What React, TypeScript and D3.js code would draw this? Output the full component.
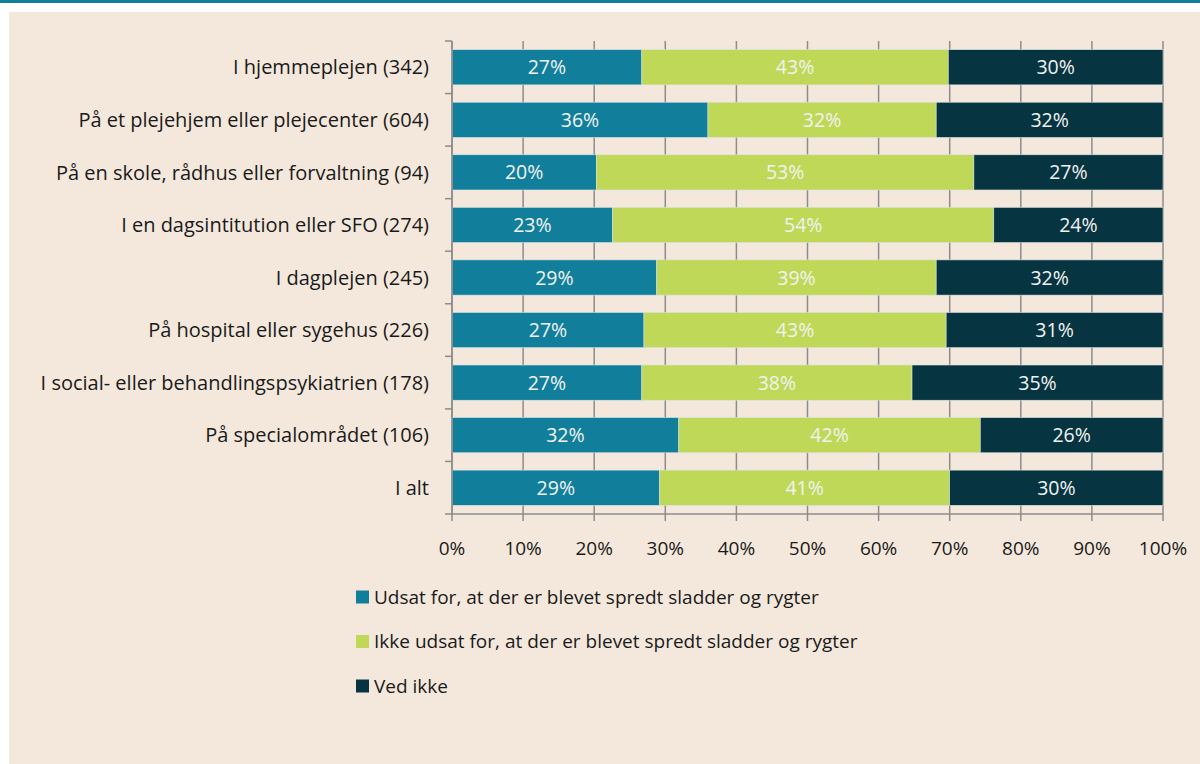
import React, { useRef, useEffect } from 'react';
import * as d3 from 'd3';

const categories = [
  'I hjemmeplejen (342)',
  'På et plejehjem eller plejecenter (604)',
  'På en skole, rådhus eller forvaltning (94)',
  'I en dagsintitution eller SFO (274)',
  'I dagplejen (245)',
  'På hospital eller sygehus (226)',
  'I social- eller behandlingspsykiatrien (178)',
  'På specialområdet (106)',
  'I alt',
];

const udsat = [26.7, 36.0, 20.3, 22.6, 28.8, 27.0, 26.7, 31.9, 29.2];
const ikkeUdsat = [43.1, 32.1, 53.1, 53.6, 39.3, 42.5, 38.0, 42.4, 40.8];
const vedIkke = [30.2, 31.9, 26.6, 23.8, 31.9, 30.5, 35.3, 25.7, 30.0];

const seriesNames = [
  'Udsat for, at der er blevet spredt sladder og rygter',
  'Ikke udsat for, at der er blevet spredt sladder og rygter',
  'Ved ikke',
];
const seriesColors = ['#117f9b', '#bfd857', '#073441'];
const xTicks = [0, 10, 20, 30, 40, 50, 60, 70, 80, 90, 100];

const W = 1200;
const H = 764;
const FONT = '"Open Sans", "Noto Sans", sans-serif';

function StackedBars() {
  const svgRef = useRef<SVGSVGElement>(null);

  useEffect(() => {
    const svg = d3.select(svgRef.current);
    svg.selectAll('*').remove();

    // panel background + top rule
    svg.append('rect').attr('width', W).attr('height', H).attr('fill', '#ffffff');
    svg.append('rect').attr('width', W).attr('height', 3).attr('fill', '#117f9b');
    svg.append('rect').attr('x', 9).attr('y', 12).attr('width', W - 9).attr('height', H - 12).attr('fill', '#f4e8dc');

    const left = 452;
    const right = 1163;
    const top = 41;
    const bottom = 514;

    const x = d3.scaleLinear().domain([0, 100]).range([left, right]);
    const y = d3.scaleBand<string>().domain(categories).range([top, bottom]).paddingInner(0.33).paddingOuter(0.165);

    const rows = categories.map((c, i) => ({ cat: c, s0: udsat[i], s1: ikkeUdsat[i], s2: vedIkke[i] }));
    const stack = d3.stack<any>().keys(['s0', 's1', 's2']);
    const layers = stack(rows);

    // vertical gridlines + bottom ticks
    const grid = svg.append('g');
    grid.selectAll('line')
      .data(xTicks)
      .enter()
      .append('line')
      .attr('x1', d => x(d))
      .attr('x2', d => x(d))
      .attr('y1', top)
      .attr('y2', bottom + 7)
      .attr('stroke', '#8c8c8c')
      .attr('stroke-width', 1.5);

    const g = svg.append('g');
    layers.forEach((layer, li) => {
      g.append('g')
        .selectAll('rect')
        .data(layer)
        .enter()
        .append('rect')
        .attr('x', d => x(d[0]))
        .attr('y', d => y(d.data.cat)!)
        .attr('width', d => x(d[1]) - x(d[0]))
        .attr('height', y.bandwidth())
        .attr('fill', seriesColors[li])
        .attr('stroke', '#d6e4e2')
        .attr('stroke-width', 0.6);

      g.append('g')
        .selectAll('text')
        .data(layer)
        .enter()
        .append('text')
        .attr('x', d => (x(d[0]) + x(d[1])) / 2)
        .attr('y', d => y(d.data.cat)! + y.bandwidth() / 2)
        .attr('dy', '0.36em')
        .attr('text-anchor', 'middle')
        .attr('fill', '#f2f2f2')
        .style('font-family', FONT)
        .style('font-size', '19.5px')
        .text(d => `${Math.round(d[1] - d[0])}%`);
    });

    // left axis line and category ticks
    const axis = svg.append('g');
    axis.append('line')
      .attr('x1', left).attr('x2', left)
      .attr('y1', top).attr('y2', bottom)
      .attr('stroke', '#8c8c8c').attr('stroke-width', 1.5);
    axis.append('line')
      .attr('x1', left).attr('x2', right)
      .attr('y1', bottom).attr('y2', bottom)
      .attr('stroke', '#8c8c8c').attr('stroke-width', 1.5);
    const bounds = d3.range(categories.length + 1).map(i => top + i * y.step());
    axis.selectAll('line.cat')
      .data(bounds)
      .enter()
      .append('line')
      .attr('class', 'cat')
      .attr('x1', left - 7).attr('x2', left)
      .attr('y1', d => d).attr('y2', d => d)
      .attr('stroke', '#8c8c8c').attr('stroke-width', 1.5);

    svg.append('g')
      .selectAll('text')
      .data(categories)
      .enter()
      .append('text')
      .attr('x', left - 23)
      .attr('y', d => y(d)! + y.bandwidth() / 2)
      .attr('dy', '0.36em')
      .attr('text-anchor', 'end')
      .attr('fill', '#1a1a1a')
      .style('font-family', FONT)
      .style('font-size', '20px')
      .text(d => d);

    svg.append('g')
      .selectAll('text')
      .data(xTicks)
      .enter()
      .append('text')
      .attr('x', d => x(d))
      .attr('y', 548)
      .attr('dy', '0.36em')
      .attr('text-anchor', 'middle')
      .attr('fill', '#1a1a1a')
      .style('font-family', FONT)
      .style('font-size', '19px')
      .text(d => `${d}%`);

    // legend
    const legend = svg.append('g');
    seriesNames.forEach((name, i) => {
      const cy = 597 + i * 44.5;
      legend.append('rect')
        .attr('x', 356).attr('y', cy - 6.5)
        .attr('width', 13).attr('height', 13)
        .attr('fill', seriesColors[i]);
      legend.append('text')
        .attr('x', 374).attr('y', cy)
        .attr('dy', '0.36em')
        .attr('fill', '#1a1a1a')
        .style('font-family', FONT)
        .style('font-size', '19px')
        .text(name);
    });
  }, []);

  return <svg ref={svgRef} width={W} height={H} viewBox={`0 0 ${W} ${H}`} style={{ display: 'block' }} />;
}

export default function App() {
  return (
    <div style={{ position: 'absolute', left: 0, top: 0 }}>
      <StackedBars />
    </div>
  );
}
